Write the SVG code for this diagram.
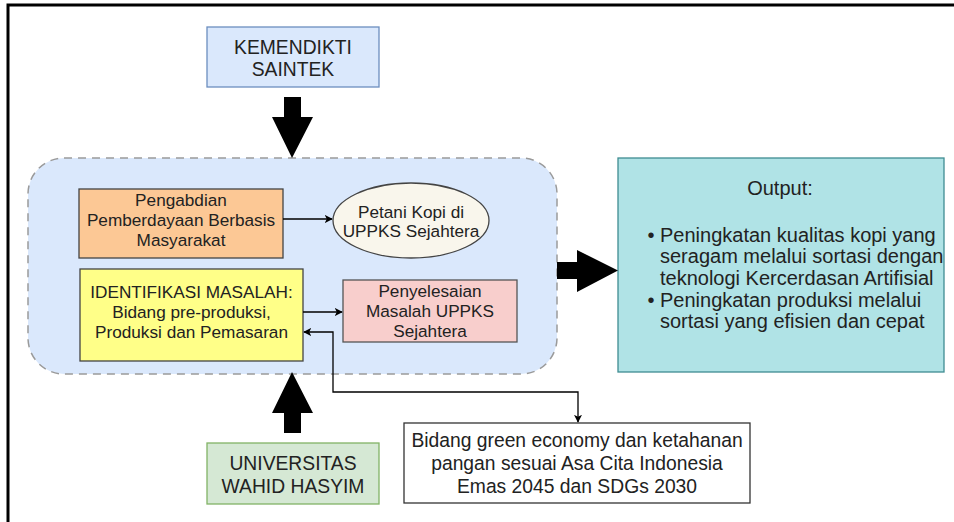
<svg xmlns="http://www.w3.org/2000/svg" width="954" height="522" viewBox="0 0 954 522">
<defs>
<marker id="ah" viewBox="0 0 10 10" refX="9" refY="5" markerWidth="8" markerHeight="8" markerUnits="userSpaceOnUse" orient="auto-start-reverse">
<path d="M0,0 L10,5 L0,10 L2.5,5 Z" fill="#000"/>
</marker>
<style>
text{font-family:"Liberation Sans",Arial,Helvetica,sans-serif;fill:#222;text-anchor:middle}
.big{font-size:19.3px}
.out{font-size:20px}
.st{text-anchor:start}
.sm{font-size:17.2px}
.bx{stroke-width:1.3}
.ln{fill:none;stroke:#000;stroke-width:1.3}
.blk{fill:#000}
</style>
</defs>
<rect width="954" height="522" fill="#fff"/>
<path d="M8,522 V5 H954" fill="none" stroke="#000" stroke-width="3"/>

<g id="container">
<rect x="28" y="158" width="529" height="216" rx="36" ry="36" fill="#dae8fc" stroke="#9a9a9a" stroke-width="1.5" stroke-dasharray="8 6"/>
</g>

<g id="kemendikti">
<rect class="bx" x="207" y="27" width="172" height="60" fill="#dae8fc" stroke="#6c8ebf"/>
<text class="big" x="293" y="53.5">KEMENDIKTI</text>
<text class="big" x="293" y="76">SAINTEK</text>
</g>

<g id="pengabdian">
<rect class="bx" x="79" y="189" width="204" height="69" fill="#fcc895" stroke="#444"/>
<text class="sm" x="181" y="206">Pengabdian</text>
<text class="sm" x="181" y="226">Pemberdayaan Berbasis</text>
<text class="sm" x="181" y="245.5">Masyarakat</text>
</g>

<g id="petani">
<ellipse class="bx" cx="411" cy="220.5" rx="78" ry="37.5" fill="#f9f6ec" stroke="#444"/>
<text class="sm" x="411" y="218.3">Petani Kopi di</text>
<text class="sm" x="411" y="236.5">UPPKS Sejahtera</text>
</g>

<g id="identifikasi">
<rect class="bx" x="80" y="269" width="223" height="92" fill="#ffff88" stroke="#444"/>
<text class="sm" x="191.5" y="297.7">IDENTIFIKASI MASALAH:</text>
<text class="sm" x="191.5" y="318.3">Bidang pre-produksi,</text>
<text class="sm" x="191.5" y="338.3">Produksi dan Pemasaran</text>
</g>

<g id="penyelesaian">
<rect class="bx" x="343" y="280" width="174" height="62" fill="#f8cecc" stroke="#555"/>
<text class="sm" x="430" y="296.7">Penyelesaian</text>
<text class="sm" x="430" y="317.3">Masalah UPPKS</text>
<text class="sm" x="430" y="337.3">Sejahtera</text>
</g>

<g id="output">
<rect class="bx" x="618" y="158" width="326" height="214" fill="#b0e3e6" stroke="#3f8d92"/>
<text class="out" x="780" y="195">Output:</text>
<text class="out" x="651" y="241.7">•</text>
<text class="out st" x="660" y="241.7">Peningkatan kualitas kopi yang</text>
<text class="out st" x="660" y="263.3">seragam melalui sortasi dengan</text>
<text class="out st" x="660" y="285">teknologi Kercerdasan Artifisial</text>
<text class="out" x="651" y="306.7">•</text>
<text class="out st" x="660" y="306.7">Peningkatan produksi melalui</text>
<text class="out st" x="660" y="328.3">sortasi yang efisien dan cepat</text>
</g>

<g id="universitas">
<rect class="bx" x="207" y="443" width="172" height="61" fill="#d5e8d4" stroke="#82b366"/>
<text class="big" x="293" y="470">UNIVERSITAS</text>
<text class="big" x="293" y="492.7">WAHID HASYIM</text>
</g>

<g id="bidang">
<rect class="bx" x="404" y="423" width="346" height="80" fill="#fff" stroke="#333"/>
<text class="big" x="577" y="446.7">Bidang green economy dan ketahanan</text>
<text class="big" x="577" y="470">pangan sesuai Asa Cita Indonesia</text>
<text class="big" x="577" y="493.3">Emas 2045 dan SDGs 2030</text>
</g>

<g id="connectors">
<polygon class="blk" points="284,97 301,97 301,117 313,117 292,158 272,117 284,117"/>
<polygon class="blk" points="292,372 313,413 301,413 301,433 284,433 284,413 272,413"/>
<polygon class="blk" points="557,262 577,262 577,250 618,270.5 577,292 577,279 557,279"/>
<path class="ln" d="M283,219 H332" marker-end="url(#ah)"/>
<path class="ln" d="M303,312 H342" marker-end="url(#ah)"/>
<path class="ln" d="M304,332 H333 V392 H578 V422" marker-start="url(#ah)" marker-end="url(#ah)"/>
</g>
</svg>
